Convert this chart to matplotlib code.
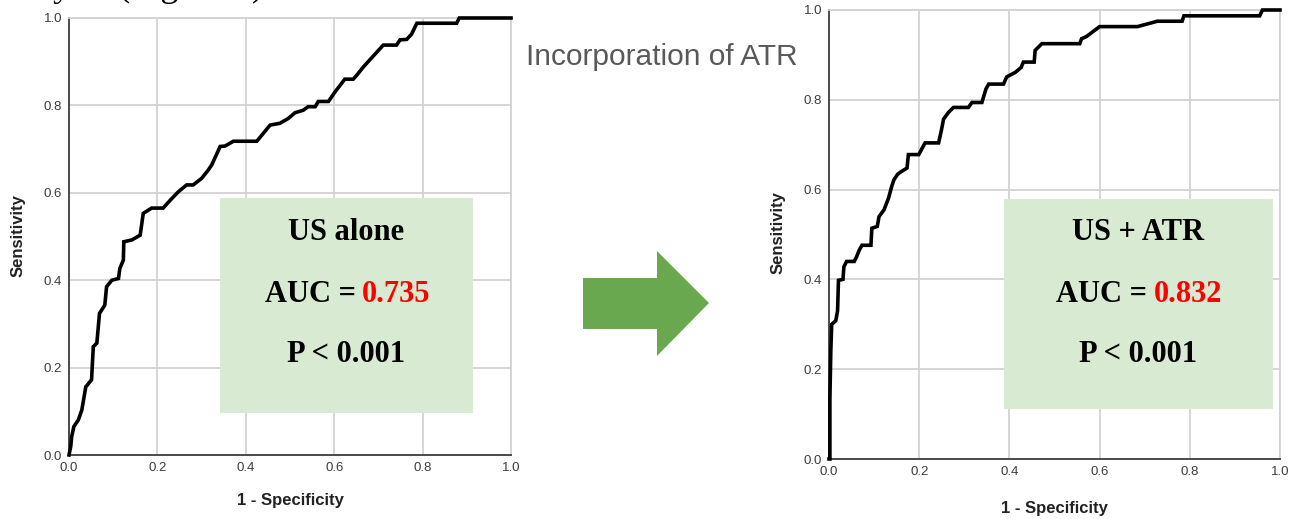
import matplotlib
matplotlib.use("Agg")
import matplotlib.pyplot as plt
from matplotlib.patches import Rectangle, Polygon

# ---------------- data ----------------
ticks = [0.0, 0.2, 0.4, 0.6, 0.8, 1.0]
tick_labels = ["0.0", "0.2", "0.4", "0.6", "0.8", "1.0"]

us_fpr = [0.000, 0.004, 0.006, 0.011, 0.021, 0.029, 0.038, 0.051, 0.055, 0.063,
          0.069, 0.081, 0.085, 0.097, 0.112, 0.115, 0.123, 0.124, 0.142, 0.161,
          0.168, 0.187, 0.213, 0.229, 0.247, 0.266, 0.281, 0.300, 0.315, 0.323,
          0.342, 0.353, 0.372, 0.425, 0.455, 0.477, 0.496, 0.511, 0.530, 0.541,
          0.557, 0.564, 0.587, 0.602, 0.624, 0.643, 0.651, 0.666, 0.711, 0.741,
          0.749, 0.764, 0.775, 0.787, 0.877, 0.883, 1.000]
us_tpr = [0.000, 0.020, 0.042, 0.065, 0.080, 0.103, 0.156, 0.172, 0.248, 0.256,
          0.324, 0.343, 0.385, 0.400, 0.404, 0.427, 0.446, 0.488, 0.492, 0.503,
          0.553, 0.565, 0.565, 0.583, 0.602, 0.618, 0.618, 0.633, 0.652, 0.664,
          0.706, 0.707, 0.718, 0.718, 0.755, 0.759, 0.770, 0.783, 0.789, 0.797,
          0.797, 0.809, 0.809, 0.831, 0.860, 0.860, 0.869, 0.888, 0.938, 0.938,
          0.950, 0.951, 0.963, 0.988, 0.988, 1.000, 1.000]

atr_fpr = [0.000, 0.002, 0.002, 0.004, 0.006, 0.015, 0.019, 0.021, 0.031, 0.033,
           0.039, 0.056, 0.061, 0.067, 0.073, 0.093, 0.095, 0.107, 0.111, 0.122,
           0.132, 0.139, 0.144, 0.152, 0.160, 0.173, 0.176, 0.199, 0.207, 0.213,
           0.243, 0.249, 0.254, 0.265, 0.276, 0.309, 0.317, 0.339, 0.348, 0.354,
           0.387, 0.394, 0.413, 0.426, 0.431, 0.455, 0.457, 0.472, 0.556, 0.560,
           0.571, 0.600, 0.684, 0.728, 0.783, 0.787, 0.955, 0.961, 1.000]
atr_tpr = [0.000, 0.000, 0.136, 0.240, 0.300, 0.308, 0.330, 0.398, 0.400, 0.428,
           0.440, 0.440, 0.450, 0.465, 0.476, 0.476, 0.514, 0.518, 0.540, 0.555,
           0.581, 0.607, 0.622, 0.634, 0.640, 0.648, 0.678, 0.678, 0.693, 0.704,
           0.704, 0.731, 0.757, 0.772, 0.783, 0.783, 0.794, 0.794, 0.824, 0.835,
           0.835, 0.851, 0.861, 0.872, 0.884, 0.884, 0.910, 0.925, 0.925, 0.936,
           0.941, 0.963, 0.963, 0.975, 0.975, 0.987, 0.987, 1.000, 1.000]

panel_names = ["US alone", "US + ATR"]
auc_values = ["0.735", "0.832"]
p_texts = ["P < 0.001", "P < 0.001"]
x_label = "1 - Specificity"
y_label = "Sensitivity"
middle_title = "Incorporation of ATR"
top_fragment = "ysis (Figure 2)"

# ---------------- layout helpers ----------------
W, H = 1305, 519
fig = plt.figure(figsize=(W / 100, H / 100), dpi=100)
fig.patch.set_facecolor("white")


def box(x0, y0, x1, y1):
    return [x0 / W, 1 - y1 / H, (x1 - x0) / W, (y1 - y0) / H]


def fx(px):
    return px / W


def fy(py):
    return 1 - py / H


SANS = ["Liberation Sans", "DejaVu Sans"]
SERIF = ["Liberation Serif", "DejaVu Serif"]
GRID = "#d2d2d2"
AXC = "#4a4a4a"


def style_axes(ax, fpr, tpr):
    ax.set_xlim(0, 1)
    ax.set_ylim(0, 1)
    ax.set_xticks(ticks)
    ax.set_yticks(ticks)
    ax.set_xticklabels(tick_labels, family=SANS, fontsize=9.5, color="#3c3c3c")
    ax.set_yticklabels(tick_labels, family=SANS, fontsize=9.5, color="#3c3c3c")
    ax.tick_params(length=0, pad=5)
    ax.grid(True, color=GRID, lw=1.3)
    ax.set_axisbelow(True)
    for s in ["top", "right"]:
        ax.spines[s].set_color(GRID)
        ax.spines[s].set_linewidth(1.3)
    for s in ["left", "bottom"]:
        ax.spines[s].set_color(AXC)
        ax.spines[s].set_linewidth(1.4)
    ax.plot(fpr, tpr, color="black", lw=2.6, solid_joinstyle="miter",
            clip_on=False, zorder=5)


ax1 = fig.add_axes(box(69, 18, 511, 455))
style_axes(ax1, us_fpr, us_tpr)
ax2 = fig.add_axes(box(829, 10, 1280, 459))
style_axes(ax2, atr_fpr, atr_tpr)

# axis labels
fig.text(fx(290), fy(501), x_label, family=SANS, fontsize=12, fontweight="bold",
         ha="center", va="center", color="#222222")
fig.text(fx(1054), fy(508), x_label, family=SANS, fontsize=12, fontweight="bold",
         ha="center", va="center", color="#222222")
fig.text(fx(18), fy(236), y_label, family=SANS, fontsize=12, fontweight="bold",
         ha="center", va="center", rotation=90, color="#222222")
fig.text(fx(778), fy(233), y_label, family=SANS, fontsize=12, fontweight="bold",
         ha="center", va="center", rotation=90, color="#222222")

# green annotation boxes
BOXC = "#d9ead3"
boxes = [(220, 198, 473, 413), (1004, 199, 1273, 409)]
split = [(356, 362), (1147, 1154)]
for i, (x0, y0, x1, y1) in enumerate(boxes):
    fig.patches.append(Rectangle((fx(x0), fy(y1)), (x1 - x0) / W, (y1 - y0) / H,
                                 transform=fig.transFigure, facecolor=BOXC,
                                 edgecolor="none", zorder=3))
    cx = (x0 + x1) / 2
    fig.text(fx(cx), fy(233), panel_names[i], family=SERIF, fontsize=22,
             fontweight="bold", ha="center", va="center", zorder=6)
    fig.text(fx(split[i][0]), fy(294), "AUC =", family=SERIF, fontsize=22,
             fontweight="bold", ha="right", va="center", zorder=6)
    fig.text(fx(split[i][1]), fy(294), auc_values[i], family=SERIF, fontsize=22,
             fontweight="bold", ha="left", va="center", color="#ff0000", zorder=6)
    fig.text(fx(cx), fy(355), p_texts[i], family=SERIF, fontsize=22,
             fontweight="bold", ha="center", va="center", zorder=6)

# middle title
fig.text(fx(662), fy(57), middle_title, family=SANS, fontsize=21.5,
         ha="center", va="center", color="#595959")

# green arrow
arrow_px = [(583, 278), (657, 278), (657, 251), (709, 303), (657, 356),
            (657, 329), (583, 329)]
fig.patches.append(Polygon([(fx(x), fy(y)) for x, y in arrow_px], closed=True,
                           transform=fig.transFigure, facecolor="#6aa84f",
                           edgecolor="none"))

# clipped text fragment at very top (only its lowest part is visible)
fig.text(fx(53), fy(-4), top_fragment, family=SERIF, fontsize=26,
         ha="left", va="baseline", color="black")

fig.savefig("out.png", dpi=100, facecolor="white")
